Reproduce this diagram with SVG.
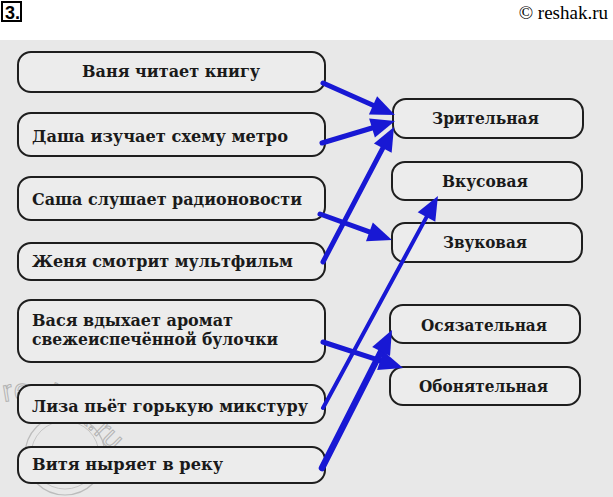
<svg xmlns="http://www.w3.org/2000/svg" width="613" height="497" viewBox="0 0 613 497">
<style>
  .box { fill: #ececec; stroke: #1e1e1e; stroke-width: 2; }
  .t { font-family: "DejaVu Serif", "Liberation Serif", serif; font-weight: bold; font-size: 16px; fill: #1a1a1a; }
  .arr { stroke: #1818d4; stroke-width: 5; fill: none; stroke-linecap: round; marker-end: url(#ah); }
  .wm { font-family: "Liberation Sans", "DejaVu Sans", sans-serif; font-size: 30px; fill: none; stroke: #b4b4b4; stroke-width: 1; }
</style>
<defs>
  <marker id="ah" markerUnits="userSpaceOnUse" markerWidth="26" markerHeight="22" refX="0" refY="10" orient="auto" overflow="visible">
    <path d="M0,0 L24,10 L0,20 z" fill="#1818d4"/>
  </marker>
  <path id="wmPath" d="M4,402 Q50,392 88,428 T158,500"/>
</defs>
<rect x="0" y="0" width="613" height="497" fill="#ffffff"/>
<rect x="0" y="40" width="613" height="457" fill="#e8e8e8"/>

<g id="header">
  <rect x="2" y="2" width="19" height="19" fill="none" stroke="#000" stroke-width="2"/>
  <text x="5" y="19" style="font-family:'Liberation Sans Narrow','Liberation Sans',sans-serif;font-weight:bold;font-size:18px">3.</text>
  <text x="608" y="19" text-anchor="end" style="font-family:'Liberation Serif',serif;font-size:19px">© reshak.ru</text>
</g>

<g id="watermark">
  <circle cx="65" cy="455" r="40" fill="none" stroke="#bcbcbc" stroke-width="1.2"/>
  <circle cx="65" cy="455" r="34" fill="none" stroke="#c6c6c6" stroke-width="1"/>
  <text class="wm"><textPath href="#wmPath">reshak.ru</textPath></text>
</g>

<g id="left1"><rect class="box" x="18" y="52" width="307" height="40" rx="13"/><text class="t" x="82" y="77" textLength="178" lengthAdjust="spacingAndGlyphs">Ваня читает книгу</text></g>
<g id="left2"><rect class="box" x="18" y="113" width="307" height="43" rx="13"/><text class="t" x="32" y="142" textLength="256" lengthAdjust="spacingAndGlyphs">Даша изучает схему метро</text></g>
<g id="left3"><rect class="box" x="18" y="177" width="307" height="43" rx="13"/><text class="t" x="32" y="205" textLength="270" lengthAdjust="spacingAndGlyphs">Саша слушает радионовости</text></g>
<g id="left4"><rect class="box" x="18" y="243" width="307" height="37" rx="13"/><text class="t" x="32" y="267" textLength="261" lengthAdjust="spacingAndGlyphs">Женя смотрит мультфильм</text></g>
<g id="left5"><rect class="box" x="18" y="300" width="307" height="62" rx="13"/><text class="t" x="32" y="326" textLength="201" lengthAdjust="spacingAndGlyphs">Вася вдыхает аромат</text><text class="t" x="32" y="345" textLength="246" lengthAdjust="spacingAndGlyphs">свежеиспечённой булочки</text></g>
<g id="left6"><rect class="box" x="18" y="385" width="307" height="38" rx="13"/><text class="t" x="32" y="412" textLength="276" lengthAdjust="spacingAndGlyphs">Лиза пьёт горькую микстуру</text></g>
<g id="left7"><rect class="box" x="18" y="447" width="307" height="36" rx="13"/><text class="t" x="32" y="470" textLength="191" lengthAdjust="spacingAndGlyphs">Витя ныряет в реку</text></g>

<g id="right1"><rect class="box" x="393" y="99" width="190" height="39" rx="13"/><text class="t" x="432" y="124" textLength="107" lengthAdjust="spacingAndGlyphs">Зрительная</text></g>
<g id="right2"><rect class="box" x="392" y="162" width="190" height="38" rx="13"/><text class="t" x="442" y="187" textLength="86" lengthAdjust="spacingAndGlyphs">Вкусовая</text></g>
<g id="right3"><rect class="box" x="392" y="223" width="190" height="39" rx="13"/><text class="t" x="443" y="248" textLength="84" lengthAdjust="spacingAndGlyphs">Звуковая</text></g>
<g id="right4"><rect class="box" x="390" y="305" width="190" height="38" rx="13"/><text class="t" x="421" y="331" textLength="126" lengthAdjust="spacingAndGlyphs">Осязательная</text></g>
<g id="right5"><rect class="box" x="390" y="367" width="190" height="38" rx="13"/><text class="t" x="419" y="392" textLength="129" lengthAdjust="spacingAndGlyphs">Обонятельная</text></g>

<g id="connectors">
  <line class="arr" x1="323" y1="83" x2="373" y2="105.3"/>
  <line class="arr" x1="322" y1="143" x2="372" y2="128"/>
  <line class="arr" x1="320" y1="214" x2="369.4" y2="231.9"/>
  <line class="arr" x1="323" y1="262" x2="382.8" y2="148.2"/>
  <line class="arr" x1="323" y1="342" x2="380.2" y2="360.6"/>
  <line class="arr" style="stroke-width:4" x1="323" y1="408" x2="426.5" y2="217.1"/>
  <line class="arr" style="stroke-width:6.5" x1="322" y1="468" x2="381.1" y2="351.4"/>
</g>
</svg>
